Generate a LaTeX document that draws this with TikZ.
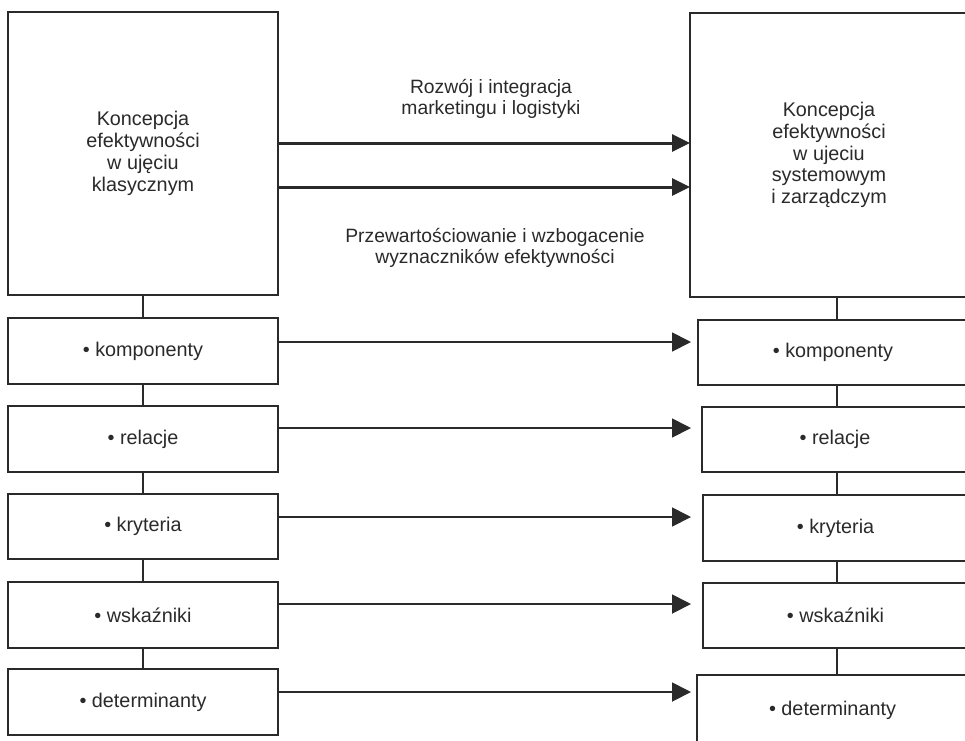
\documentclass[tikz,border=0pt]{standalone}
\usepackage{fontspec}
\setmainfont{Liberation Sans}
\usetikzlibrary{arrows.meta}
\definecolor{ink}{HTML}{2A2A2A}
\begin{document}
\begin{tikzpicture}[x=1pt,y=-1pt,
  box/.style={draw=ink, line width=1.8pt, anchor=north west, inner sep=0pt, outer sep=0pt,
     align=center, text=ink, font=\fontsize{19.8}{21.8}\selectfont},
  lbl/.style={align=center, text=ink, font=\fontsize{19.3}{20.5}\selectfont},
  bigarr/.style={draw=ink, line width=3pt, -{Triangle[length=18pt,width=17pt]}},
  arr/.style={draw=ink, line width=1.8pt, -{Triangle[length=19pt,width=19pt]}},
  vline/.style={draw=ink, line width=1.4pt}]
\useasboundingbox (0,0) rectangle (965,740);
\clip (0,0) rectangle (965,740);
\fill[white] (0,0) rectangle (965,740);

% big boxes
\node[box, minimum width=270pt, minimum height=283pt] (BL) at (8,12)
  {Koncepcja\\efektywności\\w ujęciu\\klasycznym};
\node[box, minimum width=278pt, minimum height=284pt] (BR) at (690,13)
  {Koncepcja\\efektywności\\w ujeciu\\systemowym\\i zarządczym};

% left small boxes
\node[box, minimum width=270pt, minimum height=66pt] (L1) at (8,318) {• komponenty};
\node[box, minimum width=270pt, minimum height=66pt] (L2) at (8,406) {• relacje};
\node[box, minimum width=270pt, minimum height=65pt] (L3) at (8,494) {• kryteria};
\node[box, minimum width=270pt, minimum height=66pt] (L4) at (8,582) {• wskaźniki};
\node[box, minimum width=270pt, minimum height=66pt] (L5) at (8,669) {• determinanty};

% right small boxes
\node[box, minimum width=270pt, minimum height=65pt] (R1) at (698,320) {• komponenty};
\node[box, minimum width=266pt, minimum height=65pt] (R2) at (702,407) {• relacje};
\node[box, minimum width=265pt, minimum height=66pt] (R3) at (703,495) {• kryteria};
\node[box, minimum width=265pt, minimum height=65pt] (R4) at (703,583) {• wskaźniki};
\node[box, minimum width=271pt, minimum height=70pt] (R5) at (697,675) {• determinanty};

% labels
\node[lbl] (T1) at (491,99) {Rozwój i integracja\\marketingu i logistyki};
\node[lbl] (T2) at (495,248) {Przewartościowanie i wzbogacenie\\wyznaczników efektywności};

% big arrows
\draw[bigarr] ([yshift=10.5pt]BL.east) -- ([yshift=10.5pt]BL.east -| BR.west);
\draw[bigarr] ([yshift=-33.5pt]BL.east) -- ([yshift=-33.5pt]BL.east -| BR.west);

% small arrows
\draw[arr, shorten >=7pt] ([yshift=9pt]L1.east) -- ([yshift=9pt]L1.east -| R1.west);
\draw[arr, shorten >=11pt] ([yshift=11pt]L2.east) -- ([yshift=11pt]L2.east -| R2.west);
\draw[arr, shorten >=12pt] ([yshift=9.5pt]L3.east) -- ([yshift=9.5pt]L3.east -| R3.west);
\draw[arr, shorten >=12pt] ([yshift=11pt]L4.east) -- ([yshift=11pt]L4.east -| R4.west);
\draw[arr, shorten >=6pt] ([yshift=10pt]L5.east) -- ([yshift=10pt]L5.east -| R5.west);

% vertical connectors left
\draw[vline] (BL.south) -- (L1.north);
\draw[vline] (L1.south) -- (L2.north);
\draw[vline] (L2.south) -- (L3.north);
\draw[vline] (L3.south) -- (L4.north);
\draw[vline] (L4.south) -- (L5.north);

% vertical connectors right
\coordinate (rc) at (837,0);
\draw[vline] (BR.south -| rc) -- (R1.north -| rc);
\draw[vline] (R1.south -| rc) -- (R2.north -| rc);
\draw[vline] (R2.south -| rc) -- (R3.north -| rc);
\draw[vline] (R3.south -| rc) -- (R4.north -| rc);
\draw[vline] (R4.south -| rc) -- (R5.north -| rc);
\end{tikzpicture}
\end{document}
